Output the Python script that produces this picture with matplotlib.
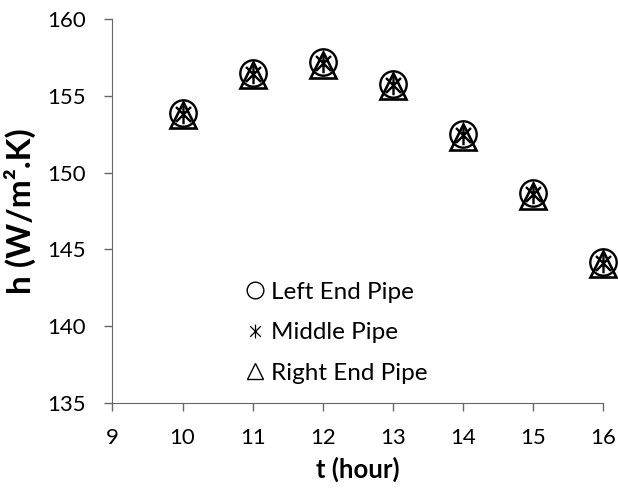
import numpy as np
import matplotlib
matplotlib.use('Agg')
import matplotlib.pyplot as plt
from matplotlib.path import Path
from matplotlib.lines import Line2D

plt.rcParams['font.family'] = ['Lato', 'DejaVu Sans']

# data
t_hour = [10, 11, 12, 13, 14, 15, 16]
h_left = [153.9, 156.5, 157.2, 155.8, 152.5, 148.65, 144.2]
h_middle = [153.85, 156.45, 157.15, 155.75, 152.45, 148.6, 144.15]
h_right = [153.75, 156.35, 157.05, 155.65, 152.35, 148.5, 144.05]

x_ticks = [9, 10, 11, 12, 13, 14, 15, 16]
y_ticks = [135, 140, 145, 150, 155, 160]
series_names = ['Left End Pipe', 'Middle Pipe', 'Right End Pipe']

# Excel style asterisk: X with a vertical bar
star = Path([(-1, -1), (1, 1), (-1, 1), (1, -1), (0, -1.3), (0, 1.3)],
            [Path.MOVETO, Path.LINETO, Path.MOVETO, Path.LINETO, Path.MOVETO, Path.LINETO])

fig = plt.figure(figsize=(6.18, 4.93), dpi=100)
ax = fig.add_axes([0.182, 0.1826, 0.7937, 0.7783])

ax.plot(t_hour, h_left, linestyle='none', marker='o', markersize=19, clip_on=False,
        markerfacecolor='none', markeredgecolor='black', markeredgewidth=1.7)
ax.plot(t_hour, h_middle, linestyle='none', marker=star, markersize=14, clip_on=False,
        markeredgecolor='black', markeredgewidth=1.7)
ax.plot(t_hour, h_right, linestyle='none', marker='^', markersize=19, clip_on=False,
        markerfacecolor='none', markeredgecolor='black', markeredgewidth=1.9)

ax.set_xlim(9, 16)
ax.set_ylim(135, 160)
ax.set_xticks(x_ticks)
ax.set_yticks(y_ticks)
ax.tick_params(labelsize=16, length=6, width=1, color='#666666', direction='out')
ax.tick_params(axis='y', pad=13)
ax.tick_params(axis='x', pad=12)
for side in ['top', 'right']:
    ax.spines[side].set_visible(False)
for side in ['left', 'bottom']:
    ax.spines[side].set_color('#666666')

ax.set_xlabel('t (hour)', fontsize=18.5, fontweight='bold', labelpad=6)
ax.set_ylabel('h (W/m².K)', fontsize=24, fontweight='bold', labelpad=8)

handles = [
    Line2D([], [], linestyle='none', marker='o', markersize=12, markerfacecolor='none',
           markeredgecolor='black', markeredgewidth=1),
    Line2D([], [], linestyle='none', marker=star, markersize=10,
           markeredgecolor='black', markeredgewidth=0.9),
    Line2D([], [], linestyle='none', marker='^', markersize=12, markerfacecolor='none',
           markeredgecolor='black', markeredgewidth=1),
]
ax.legend(handles, series_names,
          loc='center left', bbox_to_anchor=(0.222, 0.183), frameon=False,
          fontsize=17.5, handletextpad=0.15, labelspacing=0.8, handlelength=1.0)

fig.savefig('out.png', dpi=100)
